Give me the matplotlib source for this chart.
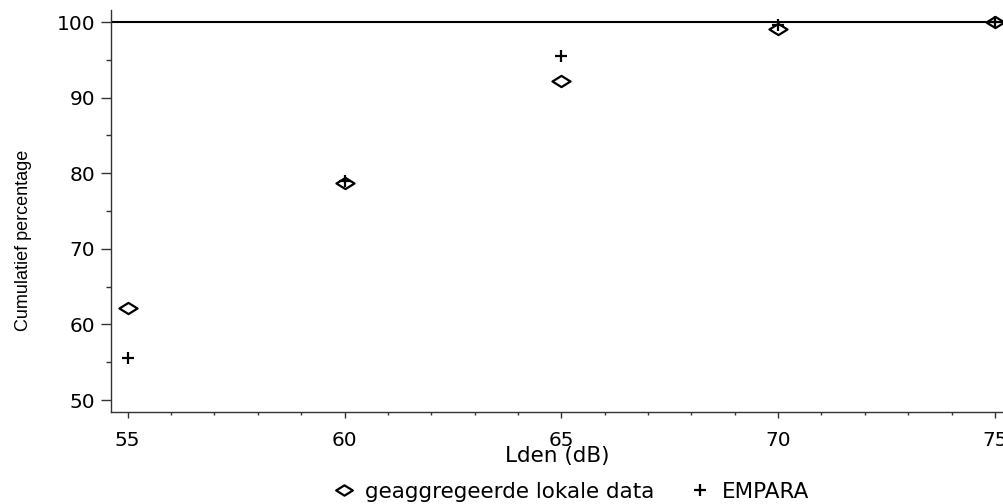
import matplotlib.pyplot as plt
from matplotlib.path import Path
from matplotlib.ticker import MultipleLocator
from matplotlib.lines import Line2D

# data
lden = [55, 60, 65, 70, 75]
lokaal = [62.2, 78.7, 92.2, 99.1, 100.0]
empara = [55.5, 79.0, 95.5, 99.6, 100.0]
legend_labels = ["geaggregeerde lokale data", "EMPARA"]

plt.rcParams['font.family'] = ['DejaVu Sans']

# flat diamond marker like the original
diamond = Path([(-1, 0), (0, 0.62), (1, 0), (0, -0.62), (-1, 0)],
               [Path.MOVETO, Path.LINETO, Path.LINETO, Path.LINETO, Path.CLOSEPOLY])

fig = plt.figure(figsize=(10.04, 5.04), dpi=100)
ax = fig.add_axes([0.1106, 0.1825, 0.8894, 0.7976])

ax.axhline(100, color='black', lw=1.5, zorder=1)
ax.plot(lden, lokaal, linestyle='none', marker=diamond, markersize=13,
        markerfacecolor='none', markeredgecolor='black', markeredgewidth=1.6, clip_on=False)
ax.plot(lden, empara, linestyle='none', marker='+', markersize=9,
        color='black', markeredgewidth=1.6, clip_on=False)

ax.set_xlim(54.615, 75.21)
ax.set_ylim(48.41, 101.59)
ax.xaxis.set_major_locator(MultipleLocator(5))
ax.xaxis.set_minor_locator(MultipleLocator(1))
ax.yaxis.set_major_locator(MultipleLocator(10))
ax.yaxis.set_minor_locator(MultipleLocator(5))

for s in ['top', 'right']:
    ax.spines[s].set_visible(False)
for s in ['left', 'bottom']:
    ax.spines[s].set_color('#333333')
    ax.spines[s].set_linewidth(1.0)

ax.tick_params(which='both', color='#333333', width=1, labelsize=14.5)
ax.tick_params(axis='x', which='major', length=4.5, pad=9)
ax.tick_params(axis='x', which='minor', length=2.5)
ax.tick_params(axis='y', which='major', length=7.5, pad=4)
ax.tick_params(axis='y', which='minor', length=3.6)

ax.set_xlabel("Lden (dB)", fontsize=15.5, labelpad=-3)
ax.set_ylabel("Cumulatief percentage", fontsize=13, family=['Liberation Sans', 'DejaVu Sans'])
ax.yaxis.set_label_coords(-0.0885, 0.428)

handles = [Line2D([], [], linestyle='none', marker=diamond, markersize=12, markerfacecolor='none',
                  markeredgecolor='black', markeredgewidth=1.6),
           Line2D([], [], linestyle='none', marker='+', markersize=9, color='black', markeredgewidth=1.6)]
fig.legend(handles, legend_labels, loc='center', bbox_to_anchor=(571 / 1004, 1 - 492 / 504),
           ncol=2, frameon=False, fontsize=15.5, handletextpad=0.5, columnspacing=1.6, handlelength=1.0)

fig.savefig("out.png", dpi=100)
